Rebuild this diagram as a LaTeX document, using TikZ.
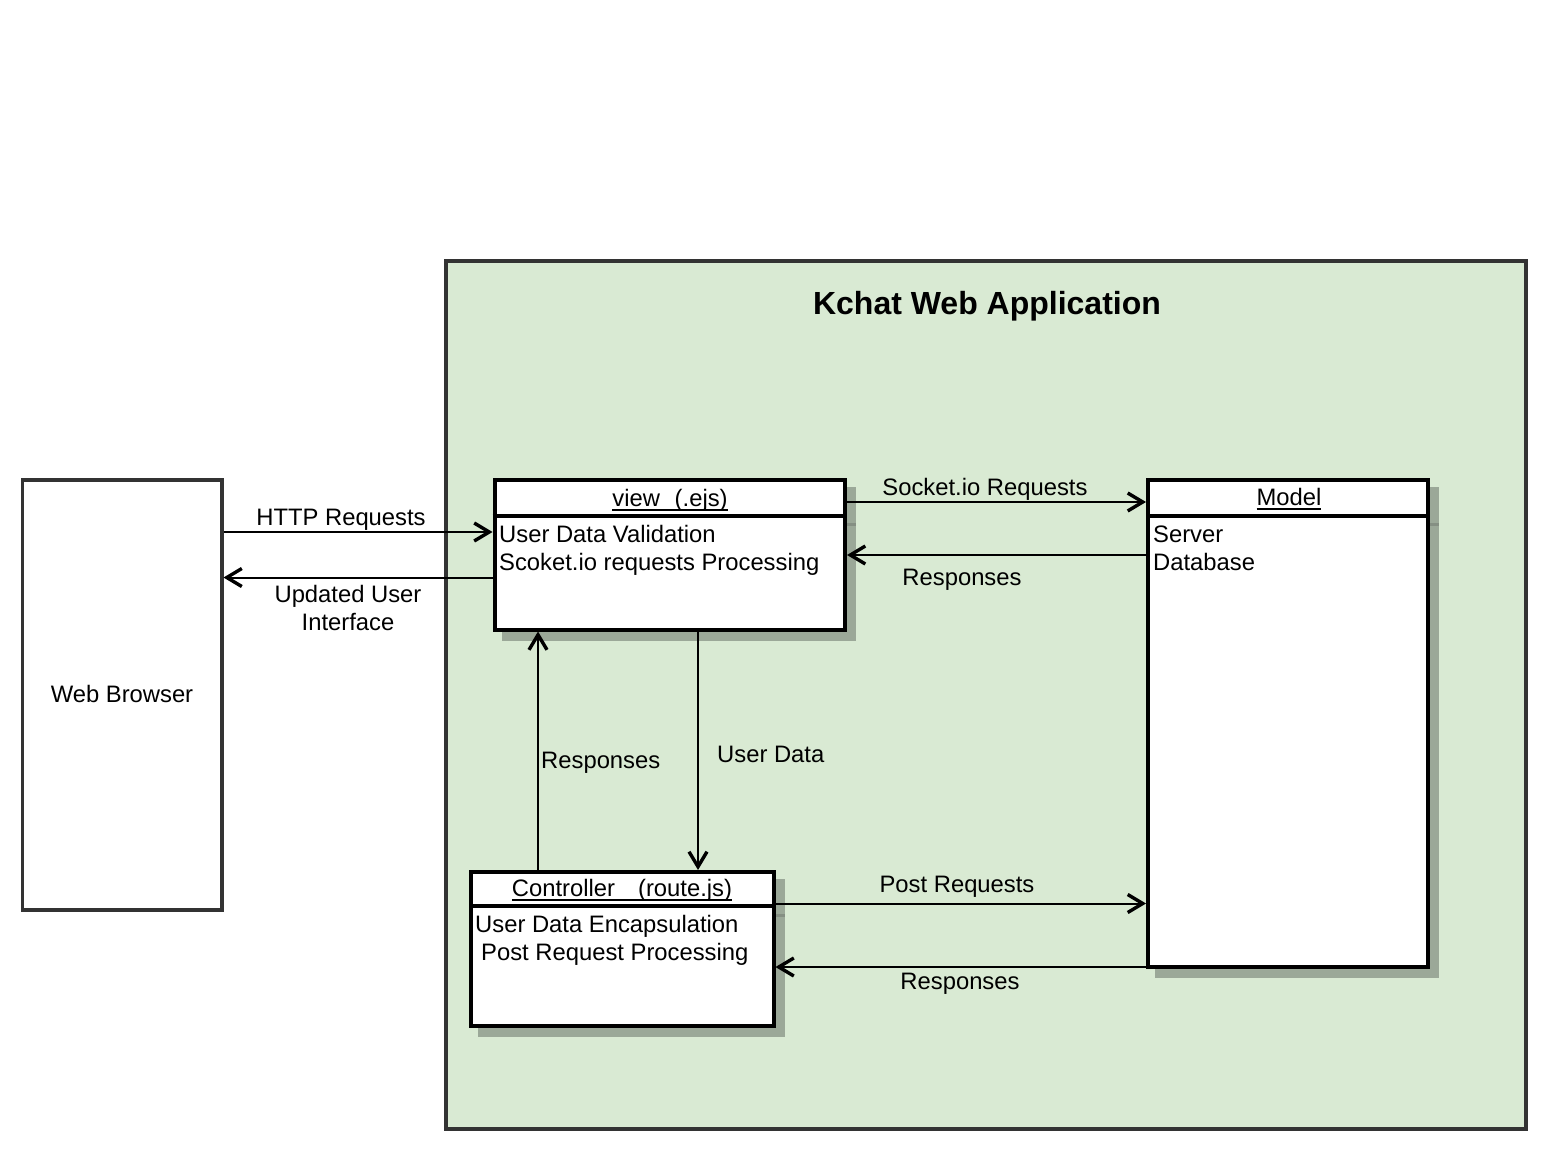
\documentclass[tikz,border=0pt]{standalone}
\usepackage{fontspec}
\setmainfont{Liberation Sans}
\usetikzlibrary{arrows.meta}
\definecolor{appgreen}{HTML}{D9EAD3}
\definecolor{framec}{HTML}{333333}
\definecolor{shadec}{HTML}{9BA898}
\definecolor{shadelinec}{HTML}{858F83}
\pgfdeclarelayer{bglayer}
\pgfdeclarelayer{shadowlayer}
\pgfsetlayers{bglayer,shadowlayer,main}
\newcommand\myul[1]{\setbox0\hbox{#1}\rlap{\rule[-4.5pt]{\wd0}{2pt}}\box0}
\begin{document}
\begin{tikzpicture}[x=1pt,y=-1pt,
  txt/.style={font=\fontsize{23.8}{28}\selectfont, inner sep=0pt},
  umlbox/.style={draw=black, line width=4pt, fill=white, inner sep=0pt},
  framebox/.style={draw=framec, line width=3.5pt, inner sep=0pt},
  sepline/.style={line width=4pt},
  shadowfill/.style={fill=shadec},
  shadowsep/.style={draw=shadelinec, line width=3pt},
  conn/.style={line width=2pt, -{Straight Barb[length=15pt,width=18pt,line width=3.4pt]}}
]
\useasboundingbox (0,0) rectangle (1566,1169);

% container
\begin{pgfonlayer}{bglayer}
\node[framebox, fill=appgreen, minimum width=1080pt, minimum height=868pt] (app) at (985.85,695) {};
\end{pgfonlayer}
\node[txt, font=\fontsize{32}{36}\selectfont\bfseries, anchor=base] (title) at (987,314) {Kchat Web Application};

% web browser
\node[framebox, fill=white, minimum width=199.5pt, minimum height=430pt] (wb) at (122,695) {};
\node[txt, anchor=base] (wblabel) at (122,702) {Web Browser};

% view
\node[umlbox, minimum width=350.5pt, minimum height=149.5pt] (view) at (669.75,554.75) {};
\draw[sepline] (view.west |- 0,515.5) -- (view.east |- 0,515.5);
\node[txt, anchor=base] (viewtitle) at (670,506) {\myul{view\hspace{14.8pt}(.ejs)}};
\node[txt, anchor=base west] (viewl1) at (499,542) {User Data Validation};
\node[txt, anchor=base west] (viewl2) at (499,570) {Scoket.io requests Processing};

% model
\node[umlbox, minimum width=280pt, minimum height=487pt] (model) at (1288,723.5) {};
\draw[sepline] (model.west |- 0,515.5) -- (model.east |- 0,515.5);
\node[txt, anchor=base] (modeltitle) at (1289,505) {\myul{Model}};
\node[txt, anchor=base west] (modell1) at (1153,542) {Server};
\node[txt, anchor=base west] (modell2) at (1153,570) {Database};

% controller
\node[umlbox, minimum width=302.5pt, minimum height=153.5pt] (ctrl) at (622.25,948.75) {};
\draw[sepline] (ctrl.west |- 0,906) -- (ctrl.east |- 0,906);
\node[txt, anchor=base] (ctrltitle) at (622,896) {\myul{Controller\hspace{23pt}(route.js)}};
\node[txt, anchor=base west] (ctrll1) at (475,932) {User Data Encapsulation};
\node[txt, anchor=base west] (ctrll2) at (481,960) {Post Request Processing};

% shadows
\begin{pgfonlayer}{shadowlayer}
\fill[shadowfill] ([shift={(9,9)}]view.north west) rectangle ([shift={(9,9)}]view.south east);
\draw[shadowsep] (view.east |- 0,524.5) -- +(9,0);
\fill[shadowfill] ([shift={(9,9)}]model.north west) rectangle ([shift={(9,9)}]model.south east);
\draw[shadowsep] (model.east |- 0,524.5) -- +(9,0);
\fill[shadowfill] ([shift={(9,9)}]ctrl.north west) rectangle ([shift={(9,9)}]ctrl.south east);
\draw[shadowsep] (ctrl.east |- 0,915) -- +(9,0);
\end{pgfonlayer}

% connectors
\draw[conn] (wb.east |- 0,532) -- (view.west |- 0,532);
\draw[conn] (view.west |- 0,577.5) -- (wb.east |- 0,577.5);
\draw[conn] (view.east |- 0,502) -- (model.west |- 0,502);
\draw[conn] (model.west |- 0,555) -- (view.east |- 0,555);
\draw[conn] (view.south -| 698,0) -- (ctrl.north -| 698,0);
\draw[conn] (ctrl.north -| 538,0) -- (view.south -| 538,0);
\draw[conn] (ctrl.east |- 0,903.5) -- (model.west |- 0,903.5);
\draw[conn] (model.west |- 0,967) -- (ctrl.east |- 0,967);

% connector labels
\node[txt, anchor=base] (lhttp) at (341,525) {HTTP Requests};
\node[txt, anchor=base] (lupd1) at (348,602) {Updated User};
\node[txt, anchor=base] (lupd2) at (348,630) {Interface};
\node[txt, anchor=base] (lsock) at (985,495) {Socket.io Requests};
\node[txt, anchor=base] (lresp1) at (962,585) {Responses};
\node[txt, anchor=base west] (luser) at (717,762) {User Data};
\node[txt, anchor=base west] (lresp2) at (541,768) {Responses};
\node[txt, anchor=base] (lpost) at (957,892) {Post Requests};
\node[txt, anchor=base] (lresp3) at (960,989) {Responses};
\end{tikzpicture}
\end{document}
